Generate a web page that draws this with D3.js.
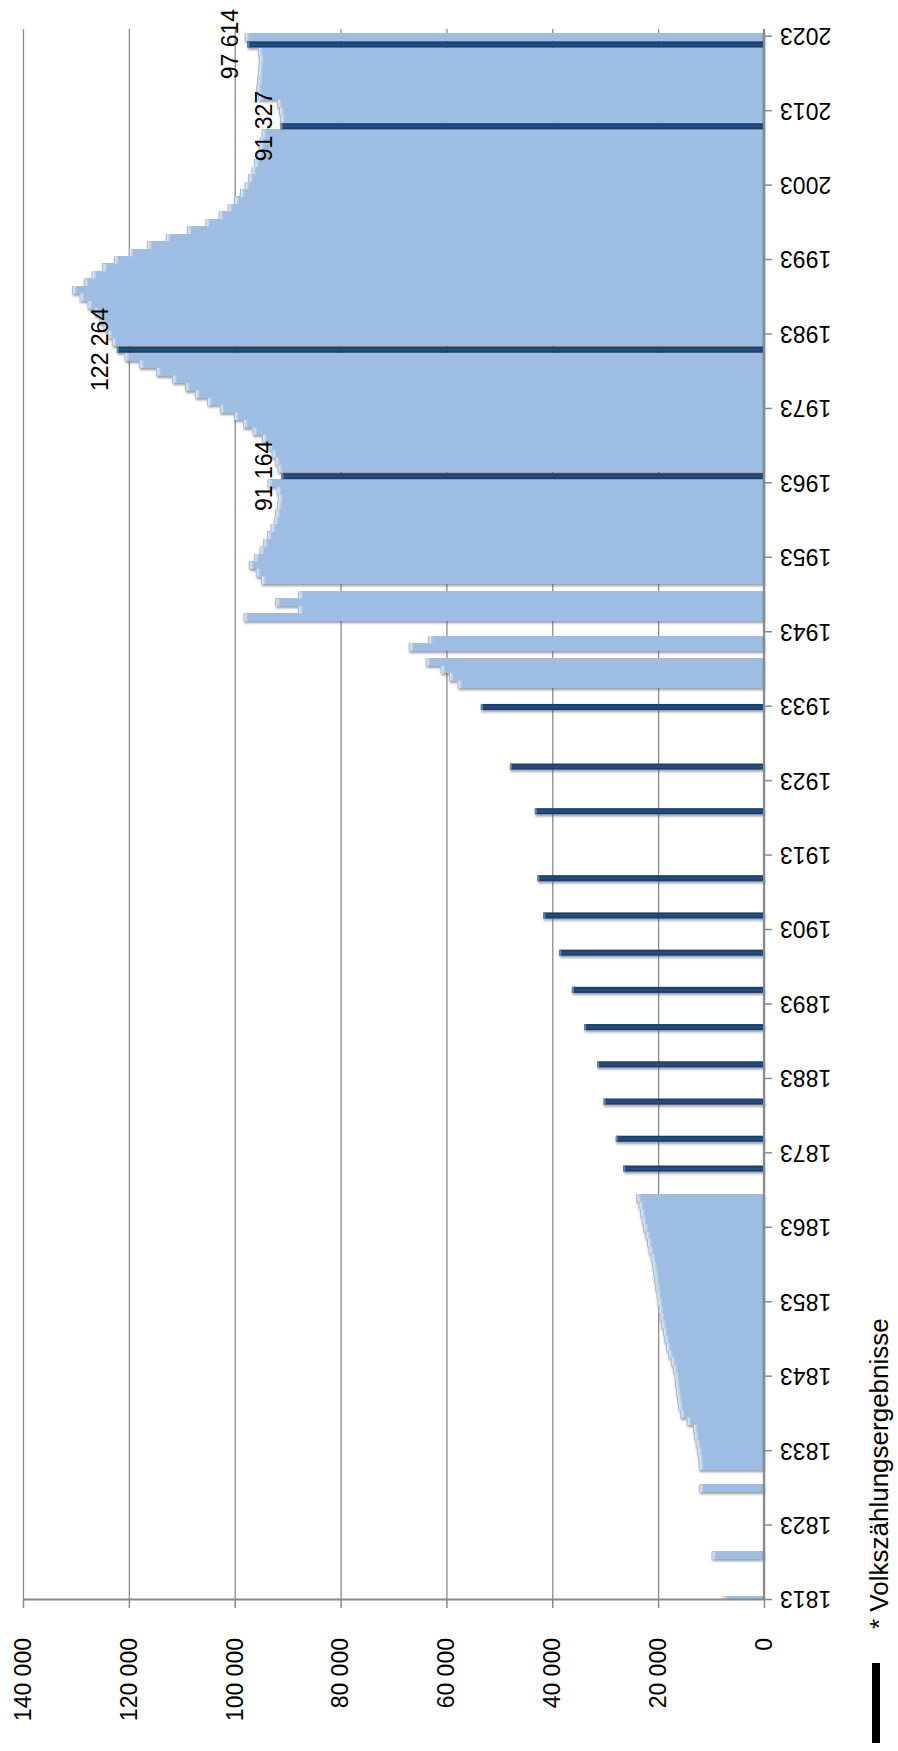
<!DOCTYPE html>
<html><head><meta charset="utf-8">
<script src="https://cdn.jsdelivr.net/npm/d3@7"></script>
<style>body{margin:0;background:#fff}svg{display:block}</style>
</head><body>
<svg id="chart" width="898" height="1751"></svg>
<script>
// ---- data ----
const estimateYears = [1813,1819,1828,
 1831,1832,1833,1834,1835,1836,1837,1838,1839,1840,1841,1842,1843,1844,1845,1846,1847,1848,1849,1850,
 1851,1852,1853,1854,1855,1856,1857,1858,1859,1860,1861,1862,1863,1864,1865,1866,1867,
 1936,1937,1938,1939,1941,1942,1945,1946,1947,1948,
 1950,1951,1952,1953,1954,1955,1956,1957,1958,1959,1960,1961,1962,1963,
 1965,1966,1967,1968,1969,1970,1971,1972,1973,1974,1975,1976,1977,1978,1979,1980,
 1982,1983,1984,1985,1986,1987,1988,1989,1990,1991,1992,1993,1994,1995,1996,1997,1998,1999,2000,
 2001,2002,2003,2004,2005,2006,2007,2008,2009,2010,
 2012,2013,2014,2015,2016,2017,2018,2019,2020,2021,2023];
const estimateValues = [7800,9900,12300,
 12300,12400,12600,12900,13200,13400,14600,15800,16200,16400,16600,16800,16900,17200,17600,18100,18500,18800,19100,19400,
 19700,19900,20100,20300,20500,20700,20900,21100,21400,21800,22100,22400,22800,23100,23400,23700,24100,
 57900,59500,61100,63900,67100,63400,98300,88000,92300,88000,
 95000,96000,97300,96300,95300,94600,93900,93200,92600,92300,92000,91800,92100,93800,
 91900,92400,93000,93700,94800,96600,98400,100100,102800,105200,107500,109300,111800,114800,118000,120800,
 123200,124000,124800,125600,126500,127800,129300,130700,128500,127000,125000,122800,120000,116500,113000,109000,105500,103000,101300,
 100100,99000,98100,97400,96800,96300,95700,95400,95200,94900,
 91400,91600,92000,95600,95900,95700,95600,95500,95400,95600,98100];
const censusYears  = [1871,1875,1880,1885,1890,1895,1900,1905,1910,1919,1925,1933,1964,1981,2011,2022];
const censusValues = [26600,28000,30300,31500,34000,36300,38700,41700,42800,43300,48000,53500,91164,122264,91327,97614];
const labeledYears = [1964,1981,2011,2022];
const valueTicks = [0,20000,40000,60000,80000,100000,120000,140000];
const yearTicks = [1813,1823,1833,1843,1853,1863,1873,1883,1893,1903,1913,1923,1933,1943,1953,1963,1973,1983,1993,2003,2013,2023];
const legendLabel = "* Volkszählungsergebnisse";

// ---- drawing (chart built unrotated, then turned 90° counter-clockwise) ----
const W = 1751, H = 898;
const plotLeft = 151, plotRight = 1722, yTop = 23, yBase = 764;
const x = d3.scaleLinear().domain([1813, 2023]).range([plotLeft, 1714.3]);
const band = (x(2023) - x(1813)) / 210;
const y = d3.scaleLinear().domain([0, 140000]).range([yBase, yTop]);
const fmt = d3.formatLocale({decimal: ",", thousands: " ", grouping: [3], currency: ["", ""]}).format(",d");
const font = "'Liberation Sans', Arial, sans-serif";

const svg = d3.select("#chart");
const defs = svg.append("defs");
const cap = defs.append("linearGradient").attr("id","capGrad").attr("x1",0).attr("y1",0).attr("x2",0).attr("y2",1);
cap.append("stop").attr("offset","0%").attr("stop-color","#eef5fd");
cap.append("stop").attr("offset","100%").attr("stop-color","#9dbde3");
const dg = defs.append("linearGradient").attr("id","darkGrad").attr("x1",0).attr("y1",0).attr("x2",1).attr("y2",0);
dg.append("stop").attr("offset","0%").attr("stop-color","#17375e");
dg.append("stop").attr("offset","50%").attr("stop-color","#24508a");
dg.append("stop").attr("offset","100%").attr("stop-color","#17375e");
const f = defs.append("filter").attr("id","shadow").attr("x","-5%").attr("y","-5%").attr("width","110%").attr("height","110%");
f.append("feDropShadow").attr("dx",-2.2).attr("dy",0.8).attr("stdDeviation",1.2)
  .attr("flood-color","#555").attr("flood-opacity",0.55);
defs.append("clipPath").attr("id","plotClip").append("rect")
  .attr("x", plotLeft).attr("y", 0).attr("width", W - plotLeft).attr("height", H);

const g = svg.append("g").attr("transform", `translate(0,${W}) rotate(-90)`);

// gridlines
const grid = g.append("g").attr("transform", `translate(${plotLeft},0)`)
  .call(d3.axisLeft(y).tickValues(valueTicks).tickSize(-(plotRight - plotLeft)).tickFormat(""));
grid.select(".domain").remove();
grid.selectAll("line").attr("stroke","#8a8a8a").attr("stroke-width",1.3);

// bars
const bars = g.append("g").attr("clip-path","url(#plotClip)").append("g").attr("filter","url(#shadow)");
const est = estimateYears.map((yr, i) => ({yr, v: estimateValues[i]}));
const cen = censusYears.map((yr, i) => ({yr, v: censusValues[i]}));

bars.selectAll("rect.est").data(est).join("rect").attr("class","est")
  .attr("x", d => x(d.yr) - band/2 - 0.3).attr("width", band + 0.6)
  .attr("y", d => y(d.v)).attr("height", d => yBase - y(d.v))
  .attr("fill", "#9dbde3").attr("shape-rendering","crispEdges");
bars.selectAll("rect.cap").data(est).join("rect").attr("class","cap")
  .attr("x", d => x(d.yr) - band/2).attr("width", band)
  .attr("y", d => y(d.v)).attr("height", 5)
  .attr("fill", "url(#capGrad)");
bars.selectAll("line.capEdge").data(est).join("line").attr("class","capEdge")
  .attr("x1", d => x(d.yr) - band/2).attr("x2", d => x(d.yr) + band/2)
  .attr("y1", d => y(d.v) + 0.4).attr("y2", d => y(d.v) + 0.4)
  .attr("stroke", "#89a9d0").attr("stroke-width", 0.8);
bars.selectAll("rect.foot").data(est).join("rect").attr("class","foot")
  .attr("x", d => x(d.yr) - band/2 - 0.3).attr("width", band + 0.6)
  .attr("y", yBase - 2.5).attr("height", 2.5).attr("fill", "#93acc9").attr("shape-rendering","crispEdges");

bars.selectAll("rect.cen").data(cen).join("rect").attr("class","cen")
  .attr("x", d => x(d.yr) - band/2 + 0.4).attr("width", band - 1.4)
  .attr("y", d => y(d.v)).attr("height", d => yBase - y(d.v))
  .attr("fill", "url(#darkGrad)");
bars.selectAll("rect.cenTip").data(cen).join("rect").attr("class","cenTip")
  .attr("x", d => x(d.yr) - band/2 + 0.4).attr("width", band - 1.4)
  .attr("y", d => y(d.v)).attr("height", 2).attr("fill", "#5b85bd");

// value axis (left in unrotated frame)
const yAxis = g.append("g").attr("transform", `translate(${plotLeft},0)`)
  .call(d3.axisLeft(y).tickValues(valueTicks).tickSize(8).tickSizeOuter(0).tickPadding(30).tickFormat(fmt));
yAxis.select(".domain").attr("stroke","#8a8a8a").attr("stroke-width",2.2);
yAxis.selectAll("line").attr("stroke","#8a8a8a").attr("stroke-width",1.5);
yAxis.selectAll("text").attr("font-family", font).attr("font-size", 23).attr("fill","#000");

// category axis (bottom in unrotated frame)
const xAxis = g.append("g").attr("transform", `translate(0,${yBase})`)
  .call(d3.axisBottom(x).tickValues(yearTicks).tickSize(8).tickSizeOuter(0).tickFormat(d3.format("d")));
xAxis.select(".domain").attr("d", `M${plotLeft},0H${plotRight}`).attr("stroke","#8a8a8a").attr("stroke-width",2.2);
xAxis.selectAll("line").attr("stroke","#8a8a8a").attr("stroke-width",1.5);
xAxis.selectAll("text").attr("font-family", font).attr("font-size", 23).attr("fill","#000")
  .attr("transform","rotate(-90)").attr("text-anchor","end").attr("x",-16).attr("y",0).attr("dy","0.35em");

// data labels
const labelled = cen.filter(d => labeledYears.includes(d.yr));
g.selectAll("text.dl").data(labelled).join("text").attr("class","dl")
  .attr("x", d => x(d.yr)).attr("y", d => y(d.v) - 9)
  .attr("text-anchor","middle").attr("font-family", font).attr("font-size", 23).attr("fill","#000")
  .text(d => fmt(d.v));

// legend
g.append("rect").attr("x", 8).attr("y", 872).attr("width", 80).attr("height", 8).attr("fill", "#000");
g.append("text").attr("x", 122).attr("y", 888).attr("font-family", font).attr("font-size", 26)
  .attr("fill","#000").text(legendLabel);
</script>
</body></html>
